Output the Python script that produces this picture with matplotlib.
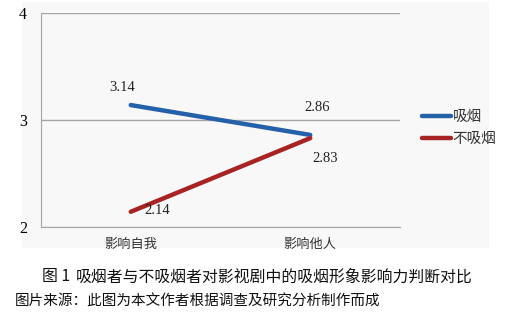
import matplotlib.pyplot as plt

plt.rcParams['font.family'] = ['Noto Sans CJK SC', 'DejaVu Sans']

categories = ['影响自我', '影响他人']
smokers = [3.14, 2.86]
non_smokers = [2.14, 2.83]
series_names = ['吸烟', '不吸烟']
yticks = [2, 3, 4]

blue = '#2461a8'
red = '#a82424'

fig = plt.figure(figsize=(5.08, 3.22), dpi=100)
fig.patch.set_facecolor('white')

# light grey chart panel behind everything
bg = fig.add_axes([22 / 508, 1 - 248 / 322, (489 - 22) / 508, (248 - 2) / 322])
bg.set_facecolor('#f8f8f8')
bg.set_xticks([])
bg.set_yticks([])
for s in bg.spines.values():
    s.set_visible(False)
bg.set_zorder(-1)

ax = fig.add_axes([41 / 508, 1 - 226.7 / 322, (400 - 41) / 508, (226.7 - 13.3) / 322])
ax.set_facecolor('none')
x = [0, 1]
ax.plot(x, smokers, color=blue, lw=3.2, solid_capstyle='round', label=series_names[0], zorder=3)
ax.plot(x, non_smokers, color=red, lw=3.2, solid_capstyle='round', label=series_names[1], zorder=3)

ax.set_xlim(-0.5, 1.5)
ax.set_ylim(2, 4)
ax.set_yticks(yticks)
ax.set_yticklabels([str(t) for t in yticks], family='Liberation Serif', fontsize=11.5)
ax.set_xticks(x)
ax.set_xticklabels(categories, fontsize=9.5, color='#333333')
ax.tick_params(axis='x', length=0, pad=8)
ax.tick_params(axis='y', length=0, pad=10)

ax.grid(axis='y', color='#a6a6a6', lw=1)
for s in ['top', 'right']:
    ax.spines[s].set_visible(False)
for s in ['left', 'bottom']:
    ax.spines[s].set_color('#a6a6a6')

lab_kw = dict(family='Liberation Serif', fontsize=10.5, color='#222222', ha='center', va='center')
ax.annotate(f'{smokers[0]:.2f}', (x[0], smokers[0]), xytext=(-6, 13), textcoords='offset points', **lab_kw)
ax.annotate(f'{smokers[1]:.2f}', (x[1], smokers[1]), xytext=(5, 20), textcoords='offset points', **lab_kw)
ax.annotate(f'{non_smokers[1]:.2f}', (x[1], non_smokers[1]), xytext=(11, -15), textcoords='offset points', **lab_kw)
ax.annotate(f'{non_smokers[0]:.2f}', (x[0], non_smokers[0]), xytext=(19, 1), textcoords='offset points', **lab_kw)

leg = fig.legend(loc='upper left', bbox_to_anchor=(409 / 508, 1 - 97 / 322), frameon=False,
                 fontsize=10.5, handlelength=2.0, handletextpad=0.1, labelspacing=0.55)
for t in leg.get_texts():
    t.set_color('#333333')

fig.text(42 / 508, 1 - 277 / 322, '图 1', ha='left', va='center', fontsize=11.4, color='#111111')
fig.text(473 / 508, 1 - 277 / 322, '吸烟者与不吸烟者对影视剧中的吸烟形象影响力判断对比',
         ha='right', va='center', fontsize=11.4, color='#111111')
fig.text(15 / 508, 1 - 301 / 322, '图片来源：此图为本文作者根据调查及研究分析制作而成',
         ha='left', va='center', fontsize=10.5, color='#111111')

fig.savefig('out.png', dpi=100)
